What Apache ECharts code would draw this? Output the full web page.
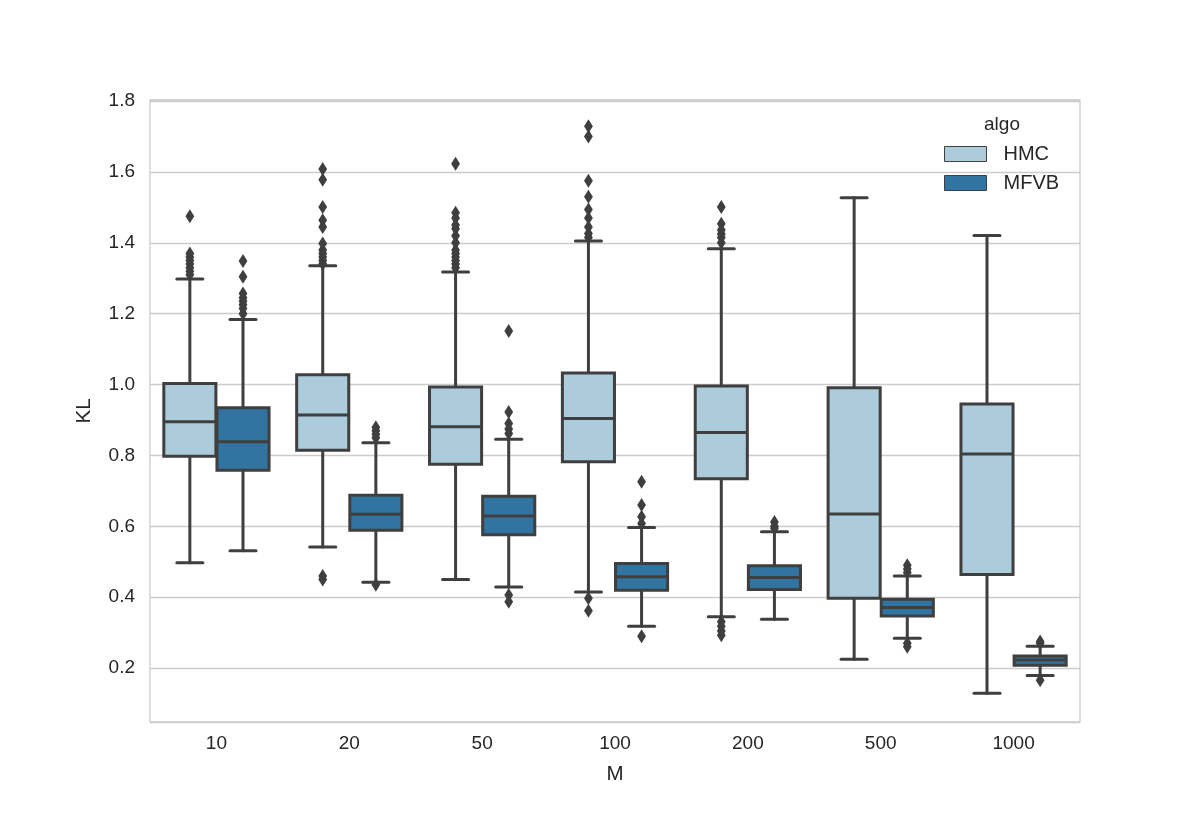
<!DOCTYPE html>
<html>
<head>
<meta charset="utf-8">
<title>KL by M</title>
<script src="https://cdn.jsdelivr.net/npm/echarts@6/dist/echarts.min.js"></script>
<style>
  html, body { margin: 0; padding: 0; background: #fff; }
  #chart { width: 1200px; height: 825px; }
</style>
</head>
<body>
<div id="chart"></div>
<script>
var categories = ['10', '20', '50', '100', '200', '500', '1000'];

// [lower whisker, Q1, median, Q3, upper whisker]
var hmcBoxes = [
  [0.497, 0.798, 0.895, 1.003, 1.298],
  [0.542, 0.815, 0.914, 1.028, 1.335],
  [0.450, 0.775, 0.881, 0.993, 1.318],
  [0.415, 0.782, 0.904, 1.033, 1.405],
  [0.345, 0.734, 0.865, 0.996, 1.383],
  [0.225, 0.397, 0.635, 0.991, 1.527],
  [0.129, 0.464, 0.804, 0.945, 1.421]
];
var mfvbBoxes = [
  [0.531, 0.758, 0.839, 0.935, 1.184],
  [0.442, 0.589, 0.634, 0.688, 0.836],
  [0.429, 0.576, 0.629, 0.685, 0.846],
  [0.318, 0.420, 0.458, 0.495, 0.597],
  [0.338, 0.422, 0.456, 0.489, 0.585],
  [0.284, 0.347, 0.371, 0.394, 0.460],
  [0.179, 0.208, 0.223, 0.234, 0.262]
];

// fliers per category
var hmcOutliers = [
  [1.475, 1.37, 1.36, 1.35, 1.34, 1.33, 1.32, 1.31],
  [1.608, 1.578, 1.501, 1.464, 1.445, 1.398, 1.38, 1.37, 1.36, 1.35, 1.341, 0.46, 0.45],
  [1.623, 1.485, 1.47, 1.45, 1.44, 1.42, 1.40, 1.38, 1.37, 1.36, 1.35, 1.34, 1.33],
  [1.729, 1.70, 1.575, 1.53, 1.494, 1.47, 1.445, 1.426, 1.415, 0.397, 0.362],
  [1.501, 1.454, 1.436, 1.425, 1.415, 1.40, 0.331, 0.318, 0.305, 0.293],
  [],
  []
];
var mfvbOutliers = [
  [1.349, 1.304, 1.257, 1.245, 1.235, 1.225, 1.215, 1.20],
  [0.88, 0.87, 0.86, 0.85, 0.435],
  [1.151, 0.923, 0.89, 0.875, 0.862, 0.406, 0.387],
  [0.726, 0.66, 0.627, 0.608, 0.290],
  [0.612, 0.600, 0.595],
  [0.49, 0.48, 0.47, 0.27, 0.26],
  [0.275, 0.27, 0.166]
];

var hmcColor = '#acccdc';
var mfvbColor = '#3274a1';
var edge = '#3f3f3f';
var ink = '#262626';
var font = '"Liberation Sans", Arial, sans-serif';

function boxData(boxes) {
  return boxes.map(function (b, i) { return [i].concat(b); });
}
function flierData(list) {
  var out = [];
  list.forEach(function (vals, i) {
    vals.forEach(function (v) { out.push([i, v]); });
  });
  return out;
}

// draw a seaborn-style box shifted inside its category band
function boxRenderer(shift, fill) {
  return function (params, api) {
    var band = api.size([1, 0])[0];
    var x = api.coord([api.value(0), 0])[0] + shift * band;
    var half = band * 0.196;
    var cap = half / 2;
    function y(i) { return api.coord([api.value(0), api.value(i)])[1]; }
    var lo = y(1), q1 = y(2), med = y(3), q3 = y(4), hi = y(5);
    var line = { stroke: edge, lineWidth: 3, lineCap: 'round' };
    return {
      type: 'group',
      children: [
        { type: 'line', shape: { x1: x, y1: q1, x2: x, y2: lo }, style: line },
        { type: 'line', shape: { x1: x, y1: q3, x2: x, y2: hi }, style: line },
        { type: 'line', shape: { x1: x - cap, y1: lo, x2: x + cap, y2: lo }, style: line },
        { type: 'line', shape: { x1: x - cap, y1: hi, x2: x + cap, y2: hi }, style: line },
        { type: 'rect', shape: { x: x - half, y: q3, width: 2 * half, height: q1 - q3 },
          style: { fill: fill, stroke: edge, lineWidth: 3 } },
        { type: 'line', shape: { x1: x - half, y1: med, x2: x + half, y2: med },
          style: { stroke: edge, lineWidth: 3 } }
      ]
    };
  };
}

function flierRenderer(shift) {
  return function (params, api) {
    var band = api.size([1, 0])[0];
    var p = api.coord([api.value(0), api.value(1)]);
    var cx = p[0] + shift * band, cy = p[1];
    return {
      type: 'polygon',
      shape: { points: [[cx, cy - 7], [cx + 4.4, cy], [cx, cy + 7], [cx - 4.4, cy]] },
      style: { fill: edge }
    };
  };
}

var chart = echarts.init(document.getElementById('chart'), null, { renderer: 'canvas' });

chart.setOption({
  backgroundColor: '#ffffff',
  animation: false,
  grid: {
    left: 150, right: 120, top: 100, bottom: 103,
    show: true, borderColor: '#cccccc', borderWidth: 1.3, backgroundColor: '#ffffff'
  },
  legend: {
    data: [
      { name: 'HMC', itemStyle: { color: hmcColor, borderColor: edge, borderWidth: 1 } },
      { name: 'MFVB', itemStyle: { color: mfvbColor, borderColor: edge, borderWidth: 1 } }
    ],
    orient: 'vertical',
    left: 944, top: 144,
    padding: 0,
    icon: 'rect',
    itemWidth: 42, itemHeight: 15, itemGap: 9,
    selectedMode: false,
    textStyle: { fontSize: 20, color: ink, fontFamily: font, padding: [0, 0, 0, 12] }
  },
  graphic: [{
    type: 'text',
    style: {
      text: 'algo', x: 1002, y: 125, align: 'center', verticalAlign: 'middle',
      fontSize: 19, fontFamily: font, fill: ink
    }
  }],
  xAxis: {
    type: 'category',
    data: categories,
    name: 'M', nameLocation: 'middle', nameGap: 42,
    nameTextStyle: { fontSize: 20.5, color: ink, fontFamily: font },
    axisLine: { show: false },
    axisTick: { show: false },
    axisLabel: { fontSize: 19, color: ink, margin: 12, fontFamily: font },
    splitLine: { show: false }
  },
  yAxis: {
    type: 'value',
    min: 0.048, max: 1.803,
    minInterval: 0.2, maxInterval: 0.2,
    name: 'KL', nameLocation: 'middle', nameGap: 55,
    nameTextStyle: { fontSize: 20.5, color: ink, fontFamily: font },
    axisLine: { show: false },
    axisTick: { show: false },
    axisLabel: {
      fontSize: 19, color: ink, margin: 15, fontFamily: font,
      formatter: function (v) {
        var k = v / 0.2;
        return Math.abs(k - Math.round(k)) < 1e-6 ? v.toFixed(1) : '';
      }
    },
    splitLine: { lineStyle: { color: '#cccccc', width: 1.3 } }
  },
  series: [
    {
      name: 'HMC', type: 'custom', itemStyle: { color: hmcColor },
      renderItem: boxRenderer(-0.2, hmcColor),
      encode: { x: 0, y: [1, 2, 3, 4, 5] },
      data: boxData(hmcBoxes), z: 2
    },
    {
      name: 'MFVB', type: 'custom', itemStyle: { color: mfvbColor },
      renderItem: boxRenderer(0.2, mfvbColor),
      encode: { x: 0, y: [1, 2, 3, 4, 5] },
      data: boxData(mfvbBoxes), z: 2
    },
    {
      name: 'HMC fliers', type: 'custom',
      renderItem: flierRenderer(-0.2),
      encode: { x: 0, y: 1 },
      data: flierData(hmcOutliers), z: 3
    },
    {
      name: 'MFVB fliers', type: 'custom',
      renderItem: flierRenderer(0.2),
      encode: { x: 0, y: 1 },
      data: flierData(mfvbOutliers), z: 3
    }
  ]
});
</script>
</body>
</html>
